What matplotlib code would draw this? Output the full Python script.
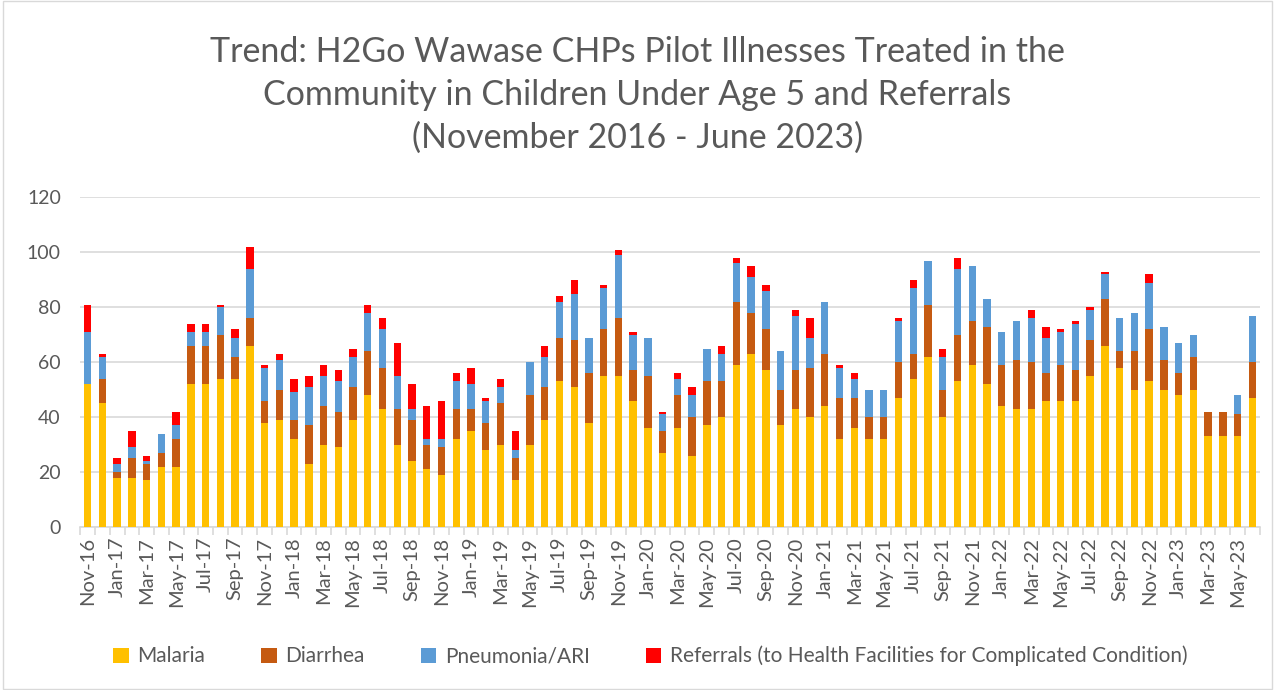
import matplotlib.pyplot as plt
import numpy as np
from matplotlib.patches import Rectangle

plt.rcParams['font.family'] = ['Lato', 'DejaVu Sans']

# months Nov-16 .. Jun-23
months = ['Nov-16', 'Dec-16',
          'Jan-17', 'Feb-17', 'Mar-17', 'Apr-17', 'May-17', 'Jun-17', 'Jul-17', 'Aug-17', 'Sep-17', 'Oct-17', 'Nov-17', 'Dec-17',
          'Jan-18', 'Feb-18', 'Mar-18', 'Apr-18', 'May-18', 'Jun-18', 'Jul-18', 'Aug-18', 'Sep-18', 'Oct-18', 'Nov-18', 'Dec-18',
          'Jan-19', 'Feb-19', 'Mar-19', 'Apr-19', 'May-19', 'Jun-19', 'Jul-19', 'Aug-19', 'Sep-19', 'Oct-19', 'Nov-19', 'Dec-19',
          'Jan-20', 'Feb-20', 'Mar-20', 'Apr-20', 'May-20', 'Jun-20', 'Jul-20', 'Aug-20', 'Sep-20', 'Oct-20', 'Nov-20', 'Dec-20',
          'Jan-21', 'Feb-21', 'Mar-21', 'Apr-21', 'May-21', 'Jun-21', 'Jul-21', 'Aug-21', 'Sep-21', 'Oct-21', 'Nov-21', 'Dec-21',
          'Jan-22', 'Feb-22', 'Mar-22', 'Apr-22', 'May-22', 'Jun-22', 'Jul-22', 'Aug-22', 'Sep-22', 'Oct-22', 'Nov-22', 'Dec-22',
          'Jan-23', 'Feb-23', 'Mar-23', 'Apr-23', 'May-23', 'Jun-23']

malaria = [52, 45,
           18, 18, 17, 22, 22, 52, 52, 54, 54, 66, 38, 39,
           32, 23, 30, 29, 39, 48, 43, 30, 24, 21, 19, 32,
           35, 28, 30, 17, 30, 39, 53, 51, 38, 55, 55, 46,
           36, 27, 36, 26, 37, 40, 59, 63, 57, 37, 43, 40,
           44, 32, 36, 32, 32, 47, 54, 62, 40, 53, 59, 52,
           44, 43, 43, 46, 46, 46, 55, 66, 58, 50, 53, 50,
           48, 50, 33, 33, 33, 47]
diarrhea = [0, 9,
            2, 7, 6, 5, 10, 14, 14, 16, 8, 10, 8, 11,
            7, 14, 14, 13, 12, 16, 15, 13, 15, 9, 10, 11,
            8, 10, 15, 8, 18, 12, 16, 17, 18, 17, 21, 11,
            19, 8, 12, 14, 16, 13, 23, 15, 15, 13, 14, 18,
            19, 15, 11, 8, 8, 13, 9, 19, 10, 17, 16, 21,
            15, 18, 17, 10, 13, 11, 13, 17, 6, 14, 19, 11,
            8, 12, 9, 9, 8, 13]
pneumonia = [19, 8,
             3, 4, 1, 7, 5, 5, 5, 10, 7, 18, 12, 11,
             10, 14, 11, 11, 11, 14, 14, 12, 4, 2, 3, 10,
             9, 8, 6, 3, 12, 11, 13, 17, 13, 15, 23, 13,
             14, 6, 6, 8, 12, 10, 14, 13, 14, 14, 20, 11,
             19, 11, 7, 10, 10, 15, 24, 16, 12, 24, 20, 10,
             12, 14, 16, 13, 12, 17, 11, 9, 12, 14, 17, 12,
             11, 8, 0, 0, 7, 17]
referrals = [10, 1,
             2, 6, 2, 0, 5, 3, 3, 1, 3, 8, 1, 2,
             5, 4, 4, 4, 3, 3, 4, 12, 9, 12, 14, 3,
             6, 1, 3, 7, 0, 4, 2, 5, 0, 1, 2, 1,
             0, 1, 2, 3, 0, 3, 2, 4, 2, 0, 2, 7,
             0, 1, 2, 0, 0, 1, 3, 0, 3, 4, 0, 0,
             0, 0, 3, 4, 1, 1, 1, 1, 0, 0, 3, 0,
             0, 0, 0, 0, 0, 0]

x = np.arange(len(months))
m = np.array(malaria)
d = np.array(diarrhea)
p = np.array(pneumonia)
r = np.array(referrals)

fig = plt.figure(figsize=(12.75, 6.9), dpi=100)
ax = fig.add_axes([0.063, 0.236, 0.925, 0.478])

w = 0.5
ax.bar(x, m, w, color='#FFC000', label='Malaria', zorder=3)
ax.bar(x, d, w, bottom=m, color='#C55A11', label='Diarrhea', zorder=3)
ax.bar(x, p, w, bottom=m + d, color='#5B9BD5', label='Pneumonia/ARI', zorder=3)
ax.bar(x, r, w, bottom=m + d + p, color='#FF0000',
       label='Referrals (to Health Facilities for Complicated Condition)', zorder=3)

ax.set_xlim(-0.5, len(months) - 0.5)
ax.set_ylim(0, 120)
ax.set_yticks(range(0, 121, 20))
ax.yaxis.grid(True, color='#D9D9D9', linewidth=1.2, zorder=0)
ax.set_xticks(x[::2])
ax.set_xticklabels(months[::2], rotation=90, fontsize=14.5, color='#595959')
ax.set_xticks(np.arange(-0.5, len(months), 1), minor=True)
ax.tick_params(axis='x', which='major', length=0, pad=7)
ax.tick_params(axis='x', which='minor', length=6, color='#D9D9D9', width=1.2)
ax.tick_params(axis='y', length=0, labelsize=14, labelcolor='#595959', pad=14)
for s in ['top', 'right', 'left']:
    ax.spines[s].set_visible(False)
ax.spines['bottom'].set_color('#D9D9D9')
ax.spines['bottom'].set_linewidth(1.2)

fig.text(0.5, 0.862, 'Trend: H2Go Wawase CHPs Pilot Illnesses Treated in the\n'
         'Community in Children Under Age 5 and Referrals\n(November 2016 - June 2023)',
         ha='center', va='center', fontsize=24.5, color='#595959', linespacing=1.42)

fig.legend(loc='center', bbox_to_anchor=(0.51, 0.049), ncol=4, frameon=False,
           fontsize=15, labelcolor='#595959', handlelength=0.75, handleheight=0.75,
           columnspacing=2.7, handletextpad=0.4)

fig.patches.append(Rectangle((0.002, 0.002), 0.996, 0.996, transform=fig.transFigure,
                             fill=False, edgecolor='#D9D9D9', linewidth=1))

fig.savefig('out.png', dpi=100)
